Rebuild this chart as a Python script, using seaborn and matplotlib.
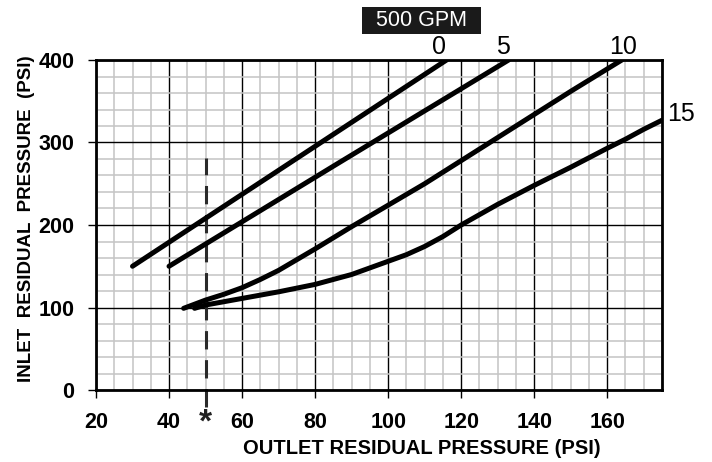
import numpy as np
import pandas as pd
import matplotlib
matplotlib.use("Agg")
import matplotlib.pyplot as plt
from matplotlib.ticker import MultipleLocator
from matplotlib.patches import Rectangle
import seaborn as sns

# ---- data ----
curve_labels = ["0", "5", "10", "15"]
x_c0 = [30, 73, 116]
y_c0 = [150, 275, 400]
x_c5 = [40, 86, 133]
y_c5 = [150, 274, 400]
x_c10 = [44, 50, 55, 60, 65, 70, 75, 80, 90, 100, 110, 120, 130, 140, 150, 164]
y_c10 = [99, 109, 116, 124, 134, 145, 158, 171, 198, 224, 250, 278, 306, 334, 362, 400]
x_c15 = [47, 50, 55, 60, 70, 80, 90, 100, 105, 110, 115, 120, 130, 140, 150, 160, 165, 170, 175]
y_c15 = [99, 103, 107, 111, 119, 128, 140, 156, 164, 174, 186, 200, 225, 248, 270, 293, 304, 316, 327]
x_ticks = [20, 40, 60, 80, 100, 120, 140, 160]
y_ticks = [0, 100, 200, 300, 400]
marker_x = 50
marker_y_top = 281
title_text = "500 GPM"

frames = []
for lab, xs, ys in zip(curve_labels, [x_c0, x_c5, x_c10, x_c15], [y_c0, y_c5, y_c10, y_c15]):
    frames.append(pd.DataFrame({"outlet": xs, "inlet": ys, "gpm": lab}))
df = pd.concat(frames, ignore_index=True)

sns.set_style("white")
plt.rcParams["font.family"] = ["Liberation Sans", "DejaVu Sans"]
plt.rcParams["text.color"] = "black"
plt.rcParams["xtick.color"] = "black"
plt.rcParams["ytick.color"] = "black"

fig = plt.figure(figsize=(7.12, 4.62), dpi=100)
ax = fig.add_axes([96 / 712, 1 - 390 / 462, (662 - 96) / 712, (390 - 60) / 462])

sns.lineplot(data=df, x="outlet", y="inlet", hue="gpm", units="gpm", estimator=None,
             sort=False, palette=["black"] * 4, linewidth=3.6, legend=False, ax=ax,
             zorder=5, solid_capstyle="round", solid_joinstyle="round")

ax.set_xlim(20, 175)
ax.set_ylim(0, 400)
ax.xaxis.set_minor_locator(MultipleLocator(5))
ax.yaxis.set_minor_locator(MultipleLocator(20))
ax.grid(which="minor", color="#c4c4c4", linewidth=1.1, zorder=1)
ax.grid(which="major", color="black", linewidth=1.0, zorder=2)
ax.set_axisbelow(True)

for s in ax.spines.values():
    s.set_visible(True)
    s.set_color("black")
    s.set_linewidth(2.0)
    s.set_zorder(6)

ax.set_xticks(x_ticks)
ax.set_yticks(y_ticks)
ax.set_xticklabels([str(v) for v in x_ticks], fontsize=15.5, fontweight="bold", color="black")
ax.set_yticklabels([str(v) for v in y_ticks], fontsize=15.5, fontweight="bold", color="black")
ax.tick_params(axis="x", which="major", direction="out", length=5.5, width=1.0, color="black",
               pad=10, bottom=True)
ax.tick_params(axis="y", which="major", direction="out", length=5.5, width=1.0, color="black",
               pad=10, left=True)
ax.tick_params(which="minor", length=0)

ax.set_xlabel("")
ax.set_ylabel("")
fig.text(422 / 712, 1 - 448 / 462, "OUTLET RESIDUAL PRESSURE (PSI)", ha="center", va="center",
         fontsize=14.5, fontweight="bold", color="black")
fig.text(27 / 712, 1 - 219 / 462, "INLET  RESIDUAL  PRESSURE  (PSI)", ha="center", va="center",
         rotation=90, fontsize=13.5, fontweight="bold", color="black")

# dashed reference line and asterisk
ax.plot([marker_x, marker_x], [-20, marker_y_top], color="#2a2a2a", linewidth=2.2,
        dashes=(6, 3.5), clip_on=False, zorder=4)
ax.text(marker_x, -0.1, "*", transform=ax.get_xaxis_transform(), ha="center", va="center",
        fontsize=24, fontweight="bold", color="#222222")

# curve labels
lab_kw = dict(fontsize=18, clip_on=False, color="black")
ax.text(113.8, 401, "0", ha="center", va="bottom", **lab_kw)
ax.text(131.4, 401, "5", ha="center", va="bottom", **lab_kw)
ax.text(164.3, 401, "10", ha="center", va="bottom", **lab_kw)
ax.text(176.3, 335, "15", ha="left", va="center", **lab_kw)

# title box
fig.patches.append(Rectangle((362 / 712, 1 - 34 / 462), 119 / 712, 27 / 462,
                             transform=fig.transFigure, facecolor="#1a1a1a",
                             edgecolor="none", zorder=1))
fig.text(422 / 712, 1 - 21 / 462, title_text, ha="center", va="center", fontsize=15.5,
         color="white", zorder=2)

fig.savefig("out.png", dpi=100)
